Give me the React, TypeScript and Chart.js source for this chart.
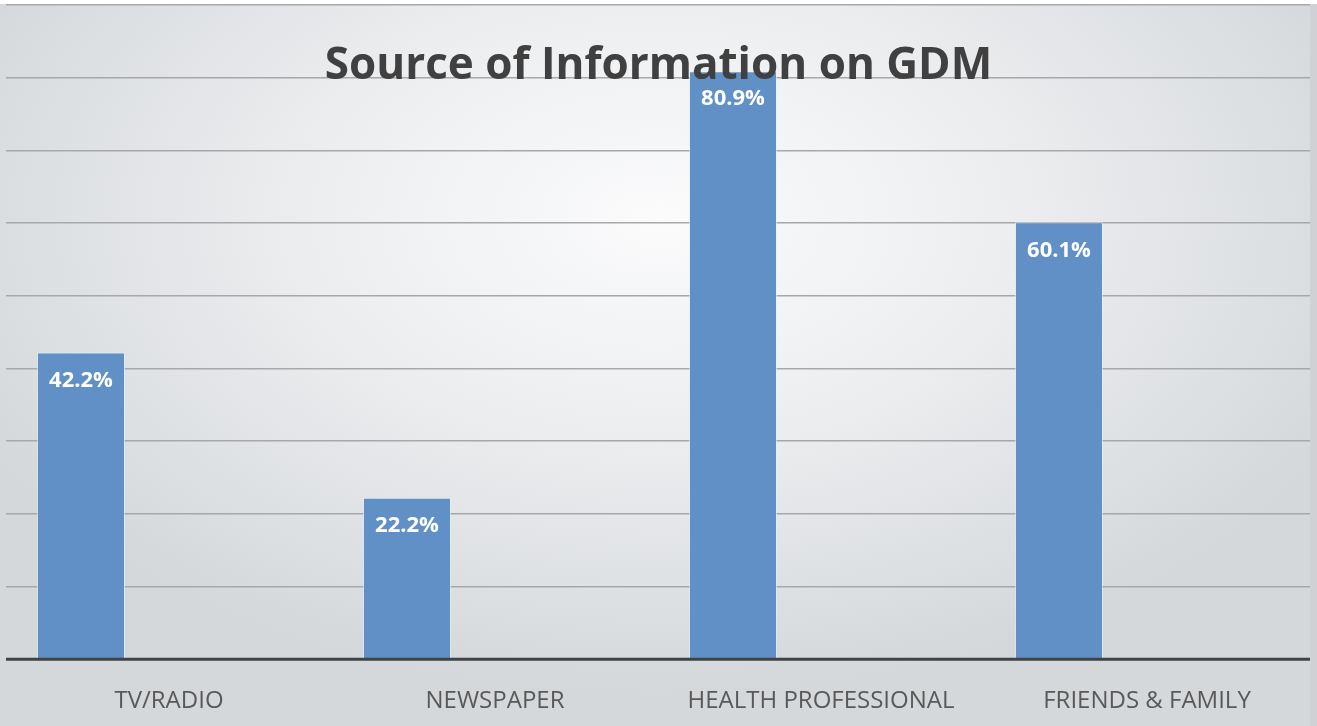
import React, { useEffect, useRef } from "react";
import { Chart, registerables } from "chart.js";

Chart.register(...registerables);

const TITLE = "Source of Information on GDM";
const categories = ["TV/RADIO", "NEWSPAPER", "HEALTH PROFESSIONAL", "FRIENDS & FAMILY"];
const percentValues = [42.2, 22.2, 80.9, 60.1];
const valueLabels = ["42.2%", "22.2%", "80.9%", "60.1%"];
const emptySeries: (number | null)[] = [null, null, null, null];
const yMin = 0;
const yMax = 90;
const yStep = 10;

const backgroundPlugin = {
  id: "bgGradient",
  beforeDraw(chart: any) {
    const { ctx, width, height } = chart;
    ctx.save();
    ctx.fillStyle = "#d6d8db";
    ctx.fillRect(0, 0, width, height);
    ctx.translate(width * 0.5, height * 0.3);
    ctx.scale(1, 0.62);
    const g = ctx.createRadialGradient(0, 0, 0, 0, 0, width * 0.58);
    g.addColorStop(0, "#fbfbfc");
    g.addColorStop(0.45, "#eceef0");
    g.addColorStop(1, "#d5d8db");
    ctx.fillStyle = g;
    ctx.fillRect(-width, -height * 2, width * 2, height * 4);
    ctx.restore();
    ctx.save();
    ctx.fillStyle = "#ffffff";
    ctx.fillRect(0, 0, width, 4);
    ctx.fillStyle = "#cfd1d4";
    ctx.fillRect(width - 7, 4, 7, height - 4);
    ctx.restore();
  },
};

const overlayPlugin = {
  id: "overlay",
  afterDatasetsDraw(chart: any) {
    const { ctx, chartArea } = chart;
    const yScale = chart.scales.y;
    const y0 = yScale.getPixelForValue(0);
    ctx.save();
    ctx.strokeStyle = "#3f4246";
    ctx.lineWidth = 3;
    ctx.beginPath();
    ctx.moveTo(chartArea.left, y0);
    ctx.lineTo(chartArea.right, y0);
    ctx.stroke();
    const meta = chart.getDatasetMeta(0);
    ctx.fillStyle = "#ffffff";
    ctx.font = "bold 22px 'Open Sans', sans-serif";
    ctx.textAlign = "center";
    ctx.textBaseline = "middle";
    meta.data.forEach((el: any, i: number) => {
      ctx.fillText(valueLabels[i], el.x, el.y + 28);
    });
    ctx.fillStyle = "#404040";
    ctx.font = "bold 44px 'Open Sans', sans-serif";
    ctx.textBaseline = "alphabetic";
    ctx.fillText(TITLE, chart.width / 2, 79);
    ctx.restore();
  },
};

export default function App() {
  const canvasRef = useRef<HTMLCanvasElement | null>(null);

  useEffect(() => {
    document.body.style.margin = "0";
    const canvas = canvasRef.current;
    if (!canvas) return;
    const chart = new Chart(canvas, {
      type: "bar",
      data: {
        labels: categories,
        datasets: [
          {
            label: "Source",
            data: percentValues,
            backgroundColor: "#6190c6",
            borderColor: "rgba(230,240,250,0.6)",
            borderWidth: 1,
          },
          { label: "pad1", data: emptySeries, backgroundColor: "transparent" },
          { label: "pad2", data: emptySeries, backgroundColor: "transparent" },
        ],
      },
      options: {
        animation: false,
        responsive: true,
        maintainAspectRatio: false,
        datasets: {
          bar: { categoryPercentage: 0.81, barPercentage: 1 },
        },
        layout: { padding: { left: 6, right: 7, top: 5, bottom: -10 } },
        plugins: {
          legend: { display: false },
          title: { display: false },
          tooltip: { enabled: false },
        },
        scales: {
          x: {
            grid: { display: false },
            border: { display: false },
            ticks: {
              color: "#595959",
              font: { family: "'Open Sans', sans-serif", size: 24 },
              padding: 20,
              maxRotation: 0,
              autoSkip: false,
            },
          },
          y: {
            min: yMin,
            max: yMax,
            ticks: { display: false, stepSize: yStep },
            grid: { color: "#a6a8ab", lineWidth: 1.5, drawTicks: false },
            border: { display: false },
          },
        },
      },
      plugins: [backgroundPlugin, overlayPlugin],
    });
    return () => chart.destroy();
  }, []);

  return (
    <div style={{ width: "1317px", height: "726px", position: "relative" }}>
      <canvas ref={canvasRef} />
    </div>
  );
}
